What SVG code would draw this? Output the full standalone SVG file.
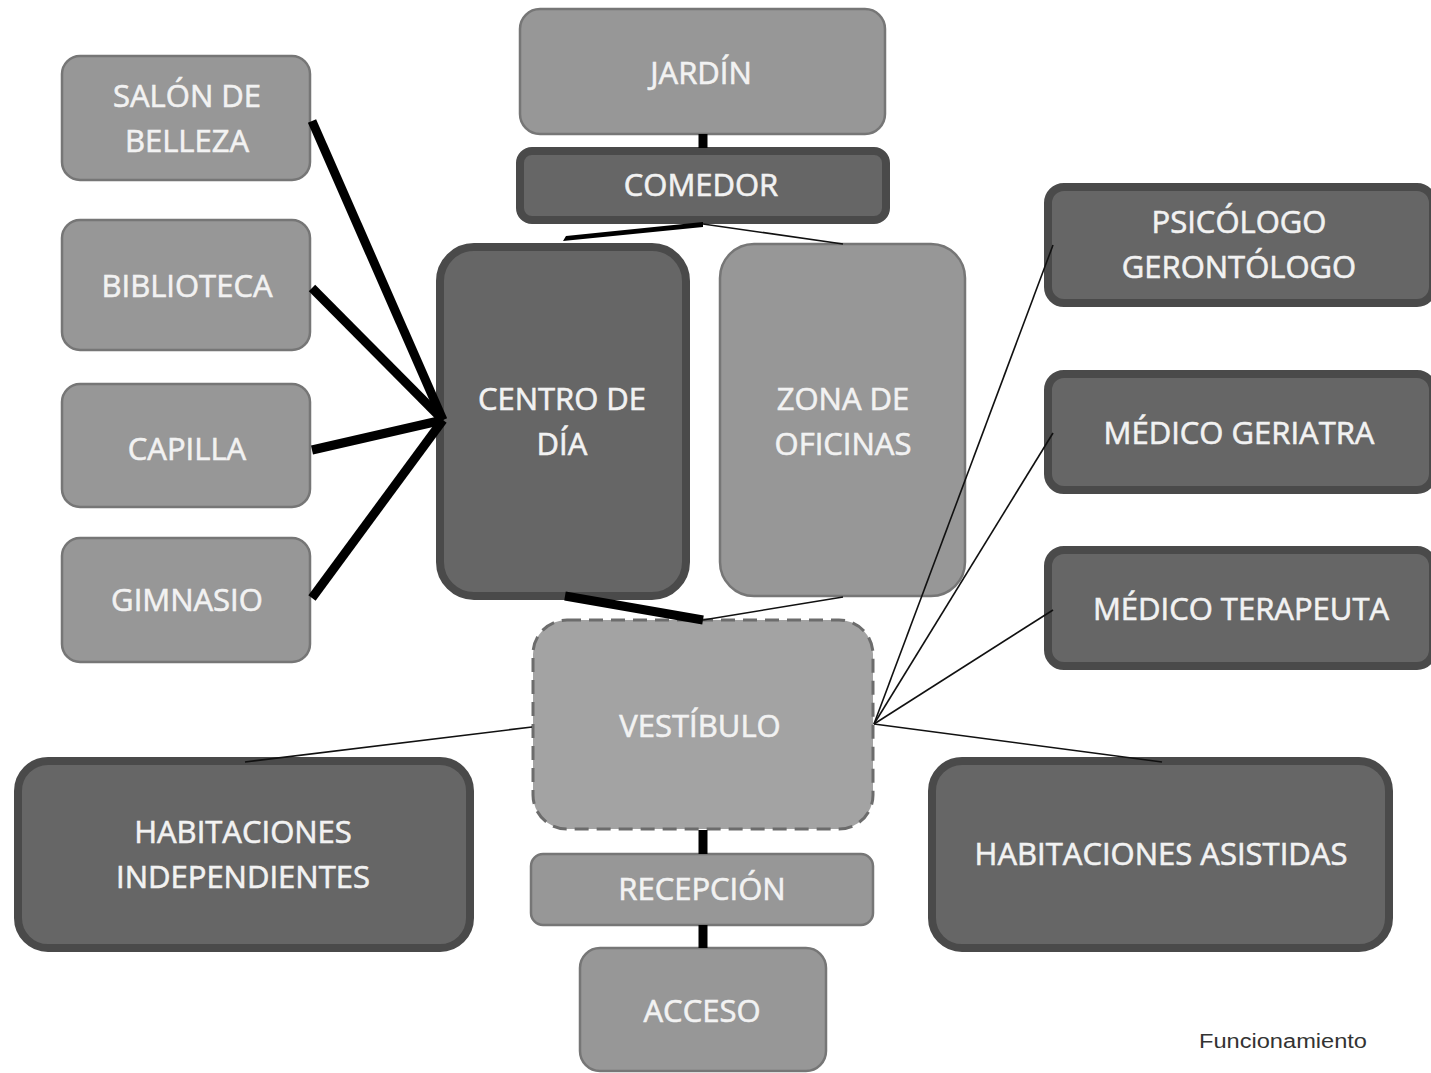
<svg xmlns="http://www.w3.org/2000/svg" width="1431" height="1073" viewBox="0 0 1431 1073">
  <style>
    .light { fill: #979797; stroke: #767676; stroke-width: 2.5; }
    .dark { fill: #666666; stroke: #4a4a4a; stroke-width: 8; }
    .hall { fill: #a3a3a3; stroke: #6c6c6c; stroke-width: 3; stroke-dasharray: 14 8; }
    .lbl { font-family: "Open Sans", "Liberation Sans", sans-serif; font-size: 31px; fill: #f2f2f2; stroke: #f2f2f2; stroke-width: 0.6; text-anchor: middle; }
    .thick { stroke: #000; stroke-width: 9; fill: none; }
    .thin { stroke: #111; stroke-width: 1.6; fill: none; }
    .cap { font-family: "Liberation Sans", sans-serif; font-size: 20px; fill: #333; }
  </style>
  <rect width="1431" height="1073" fill="#ffffff"/>

  <g id="jardin">
    <rect class="light" x="520" y="9" width="365" height="125" rx="20"/>
    <text class="lbl" x="701" y="84">JARDÍN</text>
  </g>
  <g id="comedor">
    <rect class="dark" x="520" y="151" width="366" height="69" rx="12"/>
    <text class="lbl" x="701" y="196">COMEDOR</text>
  </g>
  <g id="salon-belleza">
    <rect class="light" x="62" y="56" width="248" height="124" rx="18"/>
    <text class="lbl" x="187" y="107">SALÓN DE</text>
    <text class="lbl" x="187" y="152">BELLEZA</text>
  </g>
  <g id="biblioteca">
    <rect class="light" x="62" y="220" width="248" height="130" rx="18"/>
    <text class="lbl" x="187" y="297">BIBLIOTECA</text>
  </g>
  <g id="capilla">
    <rect class="light" x="62" y="384" width="248" height="123" rx="18"/>
    <text class="lbl" x="187" y="460">CAPILLA</text>
  </g>
  <g id="gimnasio">
    <rect class="light" x="62" y="538" width="248" height="124" rx="18"/>
    <text class="lbl" x="187" y="611">GIMNASIO</text>
  </g>
  <g id="centro-dia">
    <rect class="dark" x="440" y="247" width="246" height="349" rx="34"/>
    <text class="lbl" x="562" y="410">CENTRO DE</text>
    <text class="lbl" x="562" y="455">DÍA</text>
  </g>
  <g id="zona-oficinas">
    <rect class="light" x="720" y="244" width="245" height="352" rx="34"/>
    <text class="lbl" x="843" y="410">ZONA DE</text>
    <text class="lbl" x="843" y="455">OFICINAS</text>
  </g>
  <g id="psicologo">
    <rect class="dark" x="1048" y="187" width="385" height="116" rx="16"/>
    <text class="lbl" x="1239" y="233">PSICÓLOGO</text>
    <text class="lbl" x="1239" y="278">GERONTÓLOGO</text>
  </g>
  <g id="medico-geriatra">
    <rect class="dark" x="1048" y="374" width="385" height="116" rx="16"/>
    <text class="lbl" x="1239" y="444">MÉDICO GERIATRA</text>
  </g>
  <g id="medico-terapeuta">
    <rect class="dark" x="1048" y="550" width="385" height="116" rx="16"/>
    <text class="lbl" x="1241" y="620">MÉDICO TERAPEUTA</text>
  </g>
  <g id="vestibulo">
    <rect class="hall" x="533" y="620" width="340" height="209" rx="34"/>
    <text class="lbl" x="700" y="737">VESTÍBULO</text>
  </g>
  <g id="hab-independientes">
    <rect class="dark" x="18" y="761" width="452" height="187" rx="30"/>
    <text class="lbl" x="243" y="843">HABITACIONES</text>
    <text class="lbl" x="243" y="888">INDEPENDIENTES</text>
  </g>
  <g id="hab-asistidas">
    <rect class="dark" x="932" y="761" width="457" height="187" rx="30"/>
    <text class="lbl" x="1161" y="865">HABITACIONES ASISTIDAS</text>
  </g>
  <g id="recepcion">
    <rect class="light" x="531" y="854" width="342" height="71" rx="12"/>
    <text class="lbl" x="702" y="900">RECEPCIÓN</text>
  </g>
  <g id="acceso">
    <rect class="light" x="580" y="948" width="246" height="123" rx="20"/>
    <text class="lbl" x="702" y="1022">ACCESO</text>
  </g>

  <!-- links are drawn over the boxes -->
  <g id="connectors">
    <line class="thick" x1="703" y1="134" x2="703" y2="148"/>
    <polygon points="563,241 566,236 703,222 703,227" fill="#000"/>
    <line class="thin" x1="703" y1="224" x2="843" y2="244"/>
    <line class="thick" x1="312" y1="121" x2="443" y2="420"/>
    <line class="thick" x1="312" y1="288" x2="443" y2="420"/>
    <line class="thick" x1="312" y1="450" x2="443" y2="420"/>
    <line class="thick" x1="312" y1="598" x2="443" y2="420"/>
    <line class="thick" x1="565" y1="596" x2="703" y2="620"/>
    <line class="thin" x1="703" y1="620" x2="843" y2="597"/>
    <line class="thin" x1="874" y1="724" x2="1053" y2="245"/>
    <line class="thin" x1="874" y1="724" x2="1053" y2="433"/>
    <line class="thin" x1="874" y1="724" x2="1053" y2="610"/>
    <line class="thin" x1="874" y1="724" x2="1162" y2="762"/>
    <line class="thin" x1="532" y1="727" x2="245" y2="762"/>
    <line class="thick" x1="703" y1="830" x2="703" y2="854"/>
    <line class="thick" x1="703" y1="925" x2="703" y2="948"/>
  </g>

  <text class="cap" x="1199" y="1048" textLength="168" lengthAdjust="spacingAndGlyphs">Funcionamiento</text>
</svg>
